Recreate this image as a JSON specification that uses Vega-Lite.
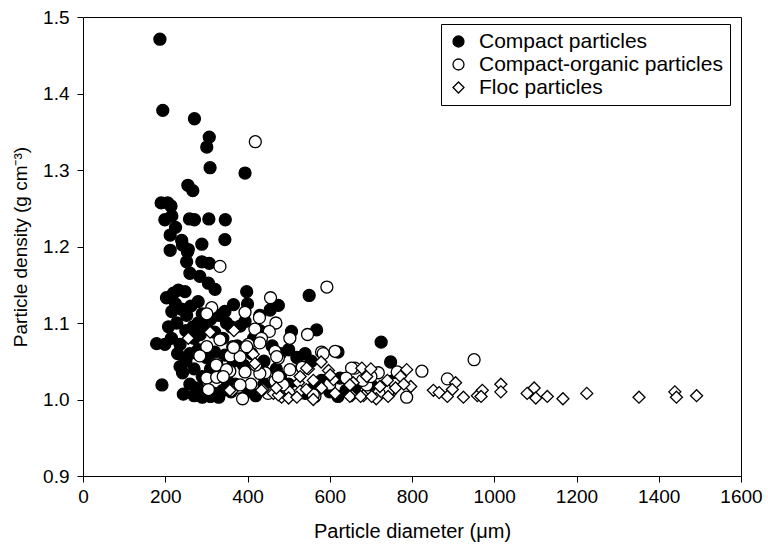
{
  "$schema": "https://vega.github.io/schema/vega-lite/v6.json",
  "width": 658,
  "height": 459,
  "autosize": {"type": "none"},
  "padding": {"left": 83, "top": 17, "right": 27, "bottom": 70},
  "config": {
    "font": "Liberation Sans",
    "view": {"stroke": "black", "strokeWidth": 1},
    "axis": {"domainColor": "black", "tickColor": "black", "labelColor": "black", "titleColor": "black", "grid": false, "labelFont": "Liberation Sans", "titleFont": "Liberation Sans", "titleFontWeight": "normal"},
    "legend": {"title": null, "orient": "none", "legendX": 358, "legendY": 7, "strokeColor": "black", "fillColor": "white", "padding": 7, "labelFontSize": 21, "labelColor": "black", "labelLimit": 400, "symbolSize": 120, "symbolStrokeWidth": 1.3, "labelOffset": 10, "rowPadding": 1}
  },
  "data": {"values": [
    {"group":"Compact particles","d":187,"rho":1.471},{"group":"Compact particles","d":194,"rho":1.378},{"group":"Compact particles","d":271,"rho":1.367},{"group":"Compact particles","d":307,"rho":1.343},{"group":"Compact particles","d":301,"rho":1.330},{"group":"Compact particles","d":309,"rho":1.303},{"group":"Compact particles","d":394,"rho":1.296},{"group":"Compact particles","d":255,"rho":1.280},{"group":"Compact particles","d":267,"rho":1.273},{"group":"Compact particles","d":190,"rho":1.257},{"group":"Compact particles","d":206,"rho":1.257},{"group":"Compact particles","d":214,"rho":1.253},{"group":"Compact particles","d":199,"rho":1.235},{"group":"Compact particles","d":216,"rho":1.240},{"group":"Compact particles","d":259,"rho":1.236},{"group":"Compact particles","d":271,"rho":1.235},{"group":"Compact particles","d":306,"rho":1.236},{"group":"Compact particles","d":346,"rho":1.235},{"group":"Compact particles","d":225,"rho":1.225},{"group":"Compact particles","d":212,"rho":1.215},{"group":"Compact particles","d":240,"rho":1.208},{"group":"Compact particles","d":242,"rho":1.202},{"group":"Compact particles","d":256,"rho":1.196},{"group":"Compact particles","d":212,"rho":1.195},{"group":"Compact particles","d":289,"rho":1.203},{"group":"Compact particles","d":345,"rho":1.209},{"group":"Compact particles","d":252,"rho":1.180},{"group":"Compact particles","d":289,"rho":1.180},{"group":"Compact particles","d":307,"rho":1.178},{"group":"Compact particles","d":254,"rho":1.193},{"group":"Compact particles","d":260,"rho":1.165},{"group":"Compact particles","d":284,"rho":1.161},{"group":"Compact particles","d":305,"rho":1.152},{"group":"Compact particles","d":321,"rho":1.144},{"group":"Compact particles","d":398,"rho":1.141},{"group":"Compact particles","d":550,"rho":1.136},{"group":"Compact particles","d":203,"rho":1.133},{"group":"Compact particles","d":220,"rho":1.139},{"group":"Compact particles","d":232,"rho":1.143},{"group":"Compact particles","d":248,"rho":1.141},{"group":"Compact particles","d":280,"rho":1.128},{"group":"Compact particles","d":366,"rho":1.124},{"group":"Compact particles","d":475,"rho":1.123},{"group":"Compact particles","d":455,"rho":1.117},{"group":"Compact particles","d":216,"rho":1.115},{"group":"Compact particles","d":252,"rho":1.110},{"group":"Compact particles","d":382,"rho":1.096},{"group":"Compact particles","d":268,"rho":1.095},{"group":"Compact particles","d":349,"rho":1.100},{"group":"Compact particles","d":394,"rho":1.102},{"group":"Compact particles","d":507,"rho":1.089},{"group":"Compact particles","d":568,"rho":1.091},{"group":"Compact particles","d":179,"rho":1.073},{"group":"Compact particles","d":199,"rho":1.072},{"group":"Compact particles","d":236,"rho":1.072},{"group":"Compact particles","d":725,"rho":1.075},{"group":"Compact particles","d":620,"rho":1.062},{"group":"Compact particles","d":236,"rho":1.043},{"group":"Compact particles","d":242,"rho":1.035},{"group":"Compact particles","d":192,"rho":1.019},{"group":"Compact particles","d":244,"rho":1.007},{"group":"Compact particles","d":620,"rho":1.004},{"group":"Compact particles","d":748,"rho":1.049},{"group":"Compact particles","d":752,"rho":1.024},{"group":"Compact particles","d":625,"rho":1.028},
    {"group":"Compact particles","d":225,"rho":1.125},{"group":"Compact particles","d":240,"rho":1.118},{"group":"Compact particles","d":262,"rho":1.122},{"group":"Compact particles","d":290,"rho":1.112},{"group":"Compact particles","d":310,"rho":1.105},{"group":"Compact particles","d":330,"rho":1.110},{"group":"Compact particles","d":345,"rho":1.115},{"group":"Compact particles","d":228,"rho":1.100},{"group":"Compact particles","d":250,"rho":1.090},{"group":"Compact particles","d":270,"rho":1.080},{"group":"Compact particles","d":285,"rho":1.085},{"group":"Compact particles","d":300,"rho":1.095},{"group":"Compact particles","d":320,"rho":1.088},{"group":"Compact particles","d":340,"rho":1.080},{"group":"Compact particles","d":360,"rho":1.095},{"group":"Compact particles","d":375,"rho":1.070},{"group":"Compact particles","d":260,"rho":1.060},{"group":"Compact particles","d":280,"rho":1.065},{"group":"Compact particles","d":300,"rho":1.055},{"group":"Compact particles","d":320,"rho":1.062},{"group":"Compact particles","d":345,"rho":1.058},{"group":"Compact particles","d":365,"rho":1.050},{"group":"Compact particles","d":390,"rho":1.045},{"group":"Compact particles","d":410,"rho":1.060},{"group":"Compact particles","d":430,"rho":1.090},{"group":"Compact particles","d":440,"rho":1.050},{"group":"Compact particles","d":460,"rho":1.070},{"group":"Compact particles","d":480,"rho":1.060},{"group":"Compact particles","d":500,"rho":1.065},{"group":"Compact particles","d":520,"rho":1.055},{"group":"Compact particles","d":540,"rho":1.060},{"group":"Compact particles","d":555,"rho":1.050},{"group":"Compact particles","d":250,"rho":1.050},{"group":"Compact particles","d":270,"rho":1.040},{"group":"Compact particles","d":290,"rho":1.030},{"group":"Compact particles","d":310,"rho":1.040},{"group":"Compact particles","d":330,"rho":1.030},{"group":"Compact particles","d":350,"rho":1.025},{"group":"Compact particles","d":370,"rho":1.020},{"group":"Compact particles","d":260,"rho":1.020},{"group":"Compact particles","d":280,"rho":1.015},{"group":"Compact particles","d":300,"rho":1.010},{"group":"Compact particles","d":320,"rho":1.008},{"group":"Compact particles","d":340,"rho":1.012},{"group":"Compact particles","d":360,"rho":1.010},{"group":"Compact particles","d":380,"rho":1.018},{"group":"Compact particles","d":400,"rho":1.010},{"group":"Compact particles","d":420,"rho":1.005},{"group":"Compact particles","d":270,"rho":1.005},{"group":"Compact particles","d":290,"rho":1.003},{"group":"Compact particles","d":310,"rho":1.004},{"group":"Compact particles","d":330,"rho":1.003},{"group":"Compact particles","d":440,"rho":1.020},{"group":"Compact particles","d":460,"rho":1.012},{"group":"Compact particles","d":480,"rho":1.030},{"group":"Compact particles","d":500,"rho":1.020},{"group":"Compact particles","d":520,"rho":1.012},{"group":"Compact particles","d":540,"rho":1.008},{"group":"Compact particles","d":560,"rho":1.015},{"group":"Compact particles","d":580,"rho":1.025},{"group":"Compact particles","d":600,"rho":1.010},{"group":"Compact particles","d":640,"rho":1.012},{"group":"Compact particles","d":660,"rho":1.015},{"group":"Compact particles","d":700,"rho":1.020},{"group":"Compact particles","d":280,"rho":1.100},{"group":"Compact particles","d":230,"rho":1.060},{"group":"Compact particles","d":215,"rho":1.080},{"group":"Compact particles","d":208,"rho":1.095},{"group":"Compact particles","d":470,"rho":1.040},{"group":"Compact particles","d":415,"rho":1.080},{"group":"Compact particles","d":400,"rho":1.125},{"group":"Compact particles","d":430,"rho":1.110},
    {"group":"Compact-organic particles","d":419,"rho":1.337},{"group":"Compact-organic particles","d":333,"rho":1.174},{"group":"Compact-organic particles","d":593,"rho":1.147},{"group":"Compact-organic particles","d":456,"rho":1.133},{"group":"Compact-organic particles","d":313,"rho":1.120},{"group":"Compact-organic particles","d":394,"rho":1.114},{"group":"Compact-organic particles","d":301,"rho":1.112},{"group":"Compact-organic particles","d":429,"rho":1.107},{"group":"Compact-organic particles","d":469,"rho":1.100},{"group":"Compact-organic particles","d":418,"rho":1.092},{"group":"Compact-organic particles","d":453,"rho":1.089},{"group":"Compact-organic particles","d":546,"rho":1.085},{"group":"Compact-organic particles","d":503,"rho":1.080},{"group":"Compact-organic particles","d":434,"rho":1.080},{"group":"Compact-organic particles","d":333,"rho":1.078},{"group":"Compact-organic particles","d":301,"rho":1.069},{"group":"Compact-organic particles","d":364,"rho":1.069},{"group":"Compact-organic particles","d":402,"rho":1.072},{"group":"Compact-organic particles","d":430,"rho":1.074},{"group":"Compact-organic particles","d":467,"rho":1.063},{"group":"Compact-organic particles","d":580,"rho":1.062},{"group":"Compact-organic particles","d":613,"rho":1.063},{"group":"Compact-organic particles","d":284,"rho":1.057},{"group":"Compact-organic particles","d":383,"rho":1.059},{"group":"Compact-organic particles","d":358,"rho":1.057},{"group":"Compact-organic particles","d":475,"rho":1.054},{"group":"Compact-organic particles","d":325,"rho":1.047},{"group":"Compact-organic particles","d":357,"rho":1.037},{"group":"Compact-organic particles","d":394,"rho":1.036},{"group":"Compact-organic particles","d":532,"rho":1.043},{"group":"Compact-organic particles","d":503,"rho":1.039},{"group":"Compact-organic particles","d":443,"rho":1.035},{"group":"Compact-organic particles","d":301,"rho":1.028},{"group":"Compact-organic particles","d":325,"rho":1.029},{"group":"Compact-organic particles","d":661,"rho":1.041},{"group":"Compact-organic particles","d":718,"rho":1.035},{"group":"Compact-organic particles","d":467,"rho":1.024},{"group":"Compact-organic particles","d":487,"rho":1.019},{"group":"Compact-organic particles","d":408,"rho":1.020},{"group":"Compact-organic particles","d":378,"rho":1.016},{"group":"Compact-organic particles","d":564,"rho":1.004},{"group":"Compact-organic particles","d":388,"rho":1.001},{"group":"Compact-organic particles","d":951,"rho":1.052},{"group":"Compact-organic particles","d":824,"rho":1.037},{"group":"Compact-organic particles","d":764,"rho":1.036},{"group":"Compact-organic particles","d":886,"rho":1.027},{"group":"Compact-organic particles","d":787,"rho":1.003},{"group":"Compact-organic particles","d":748,"rho":1.011},{"group":"Compact-organic particles","d":382,"rho":1.056},{"group":"Compact-organic particles","d":324,"rho":1.045},{"group":"Compact-organic particles","d":430,"rho":1.034},{"group":"Compact-organic particles","d":349,"rho":1.039},{"group":"Compact-organic particles","d":533,"rho":1.042},{"group":"Compact-organic particles","d":653,"rho":1.041},{"group":"Compact-organic particles","d":341,"rho":1.030},{"group":"Compact-organic particles","d":475,"rho":1.030},{"group":"Compact-organic particles","d":690,"rho":1.019},{"group":"Compact-organic particles","d":382,"rho":1.019},{"group":"Compact-organic particles","d":305,"rho":1.013},{"group":"Compact-organic particles","d":560,"rho":1.006},{"group":"Compact-organic particles","d":742,"rho":1.011},{"group":"Compact-organic particles","d":366,"rho":1.068},{"group":"Compact-organic particles","d":398,"rho":1.069},{"group":"Compact-organic particles","d":584,"rho":1.060},{"group":"Compact-organic particles","d":471,"rho":1.056},{"group":"Compact-organic particles","d":700,"rho":1.030},{"group":"Compact-organic particles","d":720,"rho":1.008},{"group":"Compact-organic particles","d":600,"rho":1.020},{"group":"Compact-organic particles","d":640,"rho":1.028},{"group":"Compact-organic particles","d":680,"rho":1.025},{"group":"Compact-organic particles","d":760,"rho":1.020},{"group":"Compact-organic particles","d":520,"rho":1.010},{"group":"Compact-organic particles","d":450,"rho":1.008},{"group":"Compact-organic particles","d":420,"rho":1.045},
    {"group":"Floc particles","d":256,"rho":1.080},{"group":"Floc particles","d":309,"rho":1.088},{"group":"Floc particles","d":367,"rho":1.090},{"group":"Floc particles","d":414,"rho":1.059},{"group":"Floc particles","d":418,"rho":1.047},{"group":"Floc particles","d":579,"rho":1.049},{"group":"Floc particles","d":548,"rho":1.040},{"group":"Floc particles","d":597,"rho":1.038},{"group":"Floc particles","d":609,"rho":1.026},{"group":"Floc particles","d":657,"rho":1.022},{"group":"Floc particles","d":524,"rho":1.022},{"group":"Floc particles","d":560,"rho":1.025},{"group":"Floc particles","d":438,"rho":1.013},{"group":"Floc particles","d":362,"rho":1.011},{"group":"Floc particles","d":463,"rho":1.008},{"group":"Floc particles","d":483,"rho":1.003},{"group":"Floc particles","d":503,"rho":1.010},{"group":"Floc particles","d":528,"rho":1.011},{"group":"Floc particles","d":543,"rho":1.013},{"group":"Floc particles","d":613,"rho":1.008},{"group":"Floc particles","d":654,"rho":1.005},{"group":"Floc particles","d":682,"rho":1.005},{"group":"Floc particles","d":713,"rho":1.001},{"group":"Floc particles","d":787,"rho":1.039},{"group":"Floc particles","d":772,"rho":1.030},{"group":"Floc particles","d":906,"rho":1.022},{"group":"Floc particles","d":797,"rho":1.017},{"group":"Floc particles","d":852,"rho":1.012},{"group":"Floc particles","d":866,"rho":1.009},{"group":"Floc particles","d":898,"rho":1.013},{"group":"Floc particles","d":886,"rho":1.004},{"group":"Floc particles","d":925,"rho":1.003},{"group":"Floc particles","d":959,"rho":1.005},{"group":"Floc particles","d":971,"rho":1.012},{"group":"Floc particles","d":968,"rho":1.004},{"group":"Floc particles","d":1016,"rho":1.020},{"group":"Floc particles","d":1016,"rho":1.010},{"group":"Floc particles","d":1097,"rho":1.015},{"group":"Floc particles","d":1080,"rho":1.008},{"group":"Floc particles","d":1101,"rho":1.002},{"group":"Floc particles","d":1129,"rho":1.004},{"group":"Floc particles","d":1167,"rho":1.001},{"group":"Floc particles","d":1225,"rho":1.008},{"group":"Floc particles","d":1352,"rho":1.003},{"group":"Floc particles","d":1439,"rho":1.010},{"group":"Floc particles","d":1443,"rho":1.003},{"group":"Floc particles","d":1492,"rho":1.005},{"group":"Floc particles","d":544,"rho":1.041},{"group":"Floc particles","d":601,"rho":1.032},{"group":"Floc particles","d":678,"rho":1.041},{"group":"Floc particles","d":528,"rho":1.030},{"group":"Floc particles","d":649,"rho":1.019},{"group":"Floc particles","d":722,"rho":1.017},{"group":"Floc particles","d":357,"rho":1.012},{"group":"Floc particles","d":434,"rho":1.012},{"group":"Floc particles","d":475,"rho":1.006},{"group":"Floc particles","d":649,"rho":1.004},{"group":"Floc particles","d":675,"rho":1.004},{"group":"Floc particles","d":702,"rho":1.004},{"group":"Floc particles","d":742,"rho":1.004},{"group":"Floc particles","d":760,"rho":1.015},{"group":"Floc particles","d":780,"rho":1.020},{"group":"Floc particles","d":690,"rho":1.030},{"group":"Floc particles","d":700,"rho":1.040},{"group":"Floc particles","d":740,"rho":1.025},{"group":"Floc particles","d":580,"rho":1.015},{"group":"Floc particles","d":500,"rho":1.002},{"group":"Floc particles","d":520,"rho":1.003},{"group":"Floc particles","d":470,"rho":1.015},{"group":"Floc particles","d":560,"rho":1.000}
  ]},
  "mark": {"type": "point", "filled": true, "strokeWidth": 1.3, "size": 144, "opacity": 1},
  "encoding": {
    "x": {"field": "d", "type": "quantitative", "scale": {"domain": [0, 1600], "nice": false, "zero": false},
      "axis": {"values": [0,200,400,600,800,1000,1200,1400,1600], "format": "d", "title": "Particle diameter (μm)", "titleFontSize": 20, "labelFontSize": 19, "tickSize": 6, "labelPadding": 5, "titlePadding": 15, "labelFlush": false, "labelOverlap": false}},
    "y": {"field": "rho", "type": "quantitative", "scale": {"domain": [0.9, 1.5], "nice": false, "zero": false},
      "axis": {"values": [0.9,1.0,1.1,1.2,1.3,1.4,1.5], "format": ".1f", "title": "Particle density (g cm⁻³)", "titleFontSize": 19, "labelFontSize": 19, "tickSize": 6, "labelPadding": 8, "titlePadding": 12, "labelFlush": false, "labelOverlap": false}},
    "shape": {"field": "group", "type": "nominal", "scale": {"domain": ["Compact particles", "Compact-organic particles", "Floc particles"], "range": ["circle", "circle", "diamond"]}, "legend": {"title": null}},
    "fill": {"field": "group", "type": "nominal", "scale": {"domain": ["Compact particles", "Compact-organic particles", "Floc particles"], "range": ["black", "white", "white"]}, "legend": {"title": null}},
    "stroke": {"field": "group", "type": "nominal", "scale": {"domain": ["Compact particles", "Compact-organic particles", "Floc particles"], "range": ["black", "black", "black"]}, "legend": {"title": null}}
  }
}
